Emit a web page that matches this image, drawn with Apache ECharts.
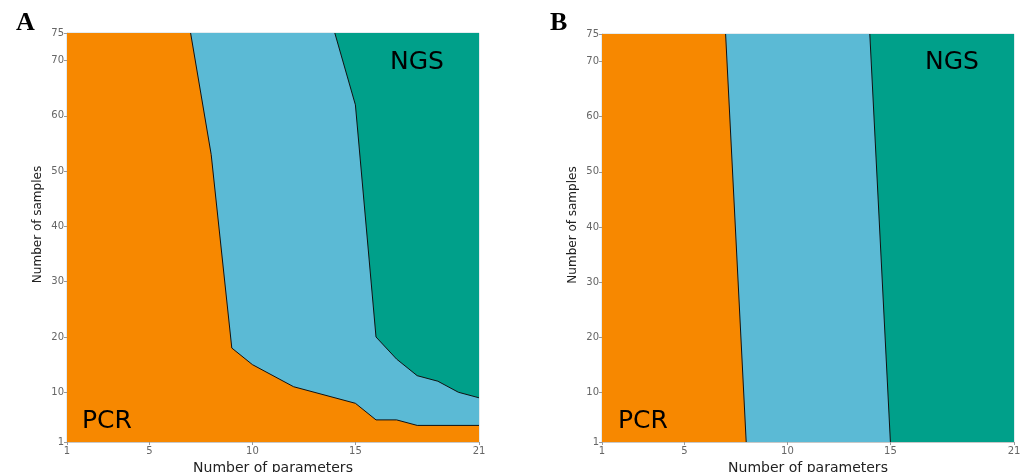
<!DOCTYPE html>
<html>
<head>
<meta charset="utf-8">
<script src="https://cdn.jsdelivr.net/npm/echarts@6/dist/echarts.min.js"></script>
<style>
  html, body { margin: 0; padding: 0; background: #fff; }
  #chart { width: 1027px; height: 472px; }
</style>
</head>
<body>
<div id="chart"></div>
<script>
  // tick labels
  var paramTicks = [1, 5, 10, 15, 21]
  var sampleTicks = [1, 10, 20, 30, 40, 50, 60, 70, 75]

  // panel A: region borders [parameters, samples]
  var pcrEdgeA = [[7, 75], [8, 53], [9, 18], [10, 15], [12, 11], [15, 8], [16, 5], [17, 5], [18, 4], [21, 4]]
  var ngsEdgeA = [[14, 75], [15, 62], [16, 20], [17, 16], [18, 13], [19, 12], [20, 10], [21, 9]]

  // panel B
  var pcrEdgeB = [[7, 75], [8, 1]]
  var ngsEdgeB = [[14, 75], [15, 1]]

  var colors = { pcr: '#f78800', mid: '#5bbad5', ngs: '#00a08a' }

  function xAxisFor (idx) {
    return {
      gridIndex: idx, type: 'value', min: 1, max: 21,
      name: 'Number of parameters', nameLocation: 'middle', nameGap: 15,
      nameTextStyle: { fontFamily: 'DejaVu Sans', fontSize: 14, color: '#222' },
      axisLine: { lineStyle: { color: '#c8c8c8', width: 1 } },
      axisTick: { customValues: paramTicks, length: 3, lineStyle: { color: '#999' } },
      axisLabel: { customValues: paramTicks, fontFamily: 'DejaVu Sans', fontSize: 10, color: '#666', margin: 4 },
      splitLine: { show: false }
    }
  }

  function yAxisFor (idx) {
    return {
      gridIndex: idx, type: 'value', min: 1, max: 75,
      name: 'Number of samples', nameLocation: 'middle', nameGap: 23,
      nameTextStyle: { fontFamily: 'DejaVu Sans', fontSize: 12, color: '#222', padding: [0, 0, 0, 26] },
      axisLine: { lineStyle: { color: '#c8c8c8', width: 1 } },
      axisTick: { customValues: sampleTicks, length: 3, lineStyle: { color: '#999' } },
      axisLabel: { customValues: sampleTicks, fontFamily: 'DejaVu Sans', fontSize: 10, color: '#666', margin: 3 },
      splitLine: { show: false }
    }
  }

  // filled area under a border, topped at 75 from x = 1
  function area (idx, pts, color) {
    return {
      type: 'line', xAxisIndex: idx, yAxisIndex: idx,
      data: [[1, 75]].concat(pts), symbol: 'none', silent: true,
      lineStyle: { width: 0 },
      areaStyle: { color: color, opacity: 1, origin: 'start' }
    }
  }

  function border (idx, pts) {
    return {
      type: 'line', xAxisIndex: idx, yAxisIndex: idx,
      data: pts, symbol: 'none', silent: true,
      lineStyle: { color: '#111', width: 1 }
    }
  }

  var chart = echarts.init(document.getElementById('chart'))
  var labelFont = { fontFamily: 'DejaVu Sans', fontSize: 25, fill: '#000', textAlign: 'center', textVerticalAlign: 'middle' }
  var panelFont = { fontFamily: 'Liberation Serif', fontWeight: 'bold', fontSize: 26, fill: '#000', textAlign: 'left', textVerticalAlign: 'top' }

  chart.setOption({
    animation: false,
    grid: [
      { left: 67, right: 548, top: 33, bottom: 30, outerBoundsMode: 'none', show: true, borderColor: '#c8d8e0', borderWidth: 1 },
      { left: 602, right: 13, top: 34, bottom: 30, outerBoundsMode: 'none', show: true, borderColor: '#c8d8e0', borderWidth: 1 }
    ],
    xAxis: [xAxisFor(0), xAxisFor(1)],
    yAxis: [yAxisFor(0), yAxisFor(1)],
    series: [
      area(0, [[21, 75]], colors.ngs),
      area(0, ngsEdgeA, colors.mid),
      area(0, pcrEdgeA, colors.pcr),
      border(0, ngsEdgeA),
      border(0, pcrEdgeA),
      area(1, [[21, 75]], colors.ngs),
      area(1, ngsEdgeB, colors.mid),
      area(1, pcrEdgeB, colors.pcr),
      border(1, ngsEdgeB),
      border(1, pcrEdgeB)
    ],
    graphic: [
      { type: 'text', z: 100, left: 16, top: 10, style: Object.assign({ text: 'A' }, panelFont) },
      { type: 'text', z: 100, left: 550, top: 10, style: Object.assign({ text: 'B' }, panelFont) },
      { type: 'text', z: 100, x: 417, y: 62, style: Object.assign({ text: 'NGS' }, labelFont) },
      { type: 'text', z: 100, x: 107, y: 421, style: Object.assign({ text: 'PCR' }, labelFont) },
      { type: 'text', z: 100, x: 952, y: 62, style: Object.assign({ text: 'NGS' }, labelFont) },
      { type: 'text', z: 100, x: 643, y: 421, style: Object.assign({ text: 'PCR' }, labelFont) }
    ]
  })
</script>
</body>
</html>
